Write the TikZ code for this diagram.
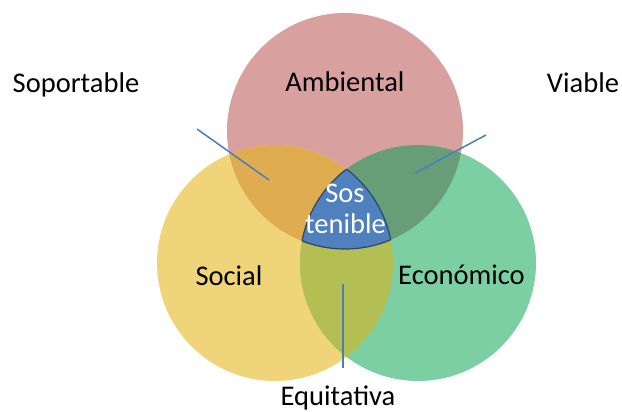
\documentclass[tikz,border=0pt]{standalone}
\usepackage{fontspec}
\setmainfont{Carlito}
\definecolor{cAmb}{RGB}{217,160,160}
\definecolor{cSoc}{RGB}{240,212,122}
\definecolor{cEco}{RGB}{124,207,162}
\definecolor{cAS}{RGB}{224,172,80}
\definecolor{cAE}{RGB}{103,158,120}
\definecolor{cSE}{RGB}{179,191,82}
\definecolor{cMid}{RGB}{80,128,190}
\definecolor{cMidEdge}{RGB}{45,70,110}
\definecolor{cLine}{RGB}{74,126,187}
\tikzset{
  lbl/.style={font=\fontsize{28.5}{31}\selectfont, text=black, inner sep=0pt, anchor=base},
  wlbl/.style={lbl, text=white},
  pointer/.style={draw=cLine, line width=1.5pt}
}
\begin{document}
\begin{tikzpicture}[x=1pt,y=-1pt]
\useasboundingbox (0,0) rectangle (622,412);
\coordinate (A) at (345,131);
\coordinate (S) at (275,263);
\coordinate (E) at (418,263);
\def\R{118pt}
% base circles
\fill[cAmb] (A) circle (\R);
\fill[cSoc] (S) circle (\R);
\fill[cEco] (E) circle (\R);
% pairwise overlaps
\begin{scope}\clip (A) circle (\R); \fill[cAS] (S) circle (\R); \end{scope}
\begin{scope}\clip (A) circle (\R); \fill[cAE] (E) circle (\R); \end{scope}
\begin{scope}\clip (S) circle (\R); \fill[cSE] (E) circle (\R); \end{scope}
% triple overlap
\begin{scope}\clip (A) circle (\R); \clip (S) circle (\R); \fill[cMid] (E) circle (\R);
  \draw[cMidEdge, line width=1.2pt] (E) circle (\R); \end{scope}
\begin{scope}\clip (A) circle (\R); \clip (E) circle (\R);
  \draw[cMidEdge, line width=1.2pt] (S) circle (\R); \end{scope}
\begin{scope}\clip (S) circle (\R); \clip (E) circle (\R);
  \draw[cMidEdge, line width=1.2pt] (A) circle (\R); \end{scope}
% labels
\node[lbl] (amb) at (345,92) {Ambiental};
\node[lbl] (soc) at (229,285) {Social};
\node[lbl] (eco) at (461.5,284) {Económico};
\node[wlbl] (sos) at (345,202) {Sos};
\node[wlbl] (ten) at (345.5,233) {tenible};
\node[lbl] (sop) at (76,93) {Soportable};
\node[lbl] (via) at (583,93) {Viable};
\node[lbl] (equ) at (338,405) {Equitativa};
% pointers
\coordinate (p1a) at (197,129); \coordinate (p1b) at (269,180);
\coordinate (p2a) at (486,135); \coordinate (p2b) at (415,173);
\coordinate (p3a) at (343,284); \coordinate (p3b) at (343,368);
\draw[pointer] (p1a) -- (p1b);
\draw[pointer] (p2a) -- (p2b);
\draw[pointer] (p3a) -- (p3b);
\end{tikzpicture}
\end{document}
